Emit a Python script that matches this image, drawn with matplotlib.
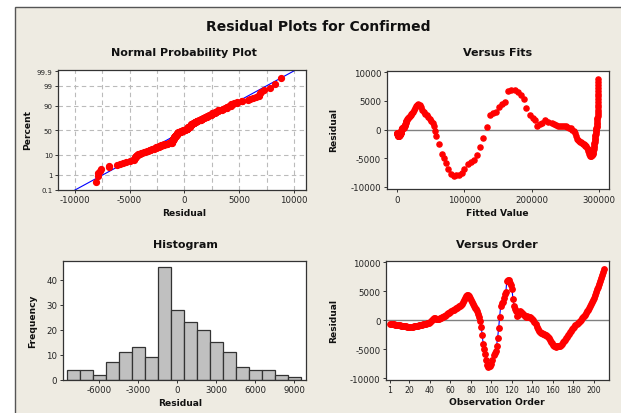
import matplotlib
matplotlib.use("Agg")
import matplotlib.pyplot as plt
import numpy as np
from statistics import NormalDist
from matplotlib.patches import Rectangle

plt.rcParams['font.family'] = ['DejaVu Sans']
plt.rcParams['axes.unicode_minus'] = False

# ---------------- data ----------------
residuals = [
    -600, -640, -660, -700, -720, -760, -780, -820, -850, -880,
    -900, -930, -960, -990, -1010, -1040, -1080, -1110, -1150, -1180,
    -1160, -1130, -1100, -1060, -1030, -1000, -970, -930, -900, -860,
    -820, -780, -740, -700, -650, -610, -560, -500, -420, -330,
    -150, 80, 280, 350, 320, 240, 200, 230, 280, 330,
    400, 480, 560, 650, 760, 880, 1000, 1150, 1300, 1450,
    1580, 1700, 1830, 1950, 2050, 2150, 2270, 2400, 2520, 2650,
    2850, 3100, 3450, 3800, 4100, 4300, 4400, 4250, 3900, 3500,
    3100, 2800, 2500, 2150, 1850, 1500, 1100, 600, -200, -1100,
    -2600, -4200, -5000, -5900, -6900, -7700, -8100, -7900, -7900, -7600,
    -6900, -6100, -5600, -5300, -4400, -3100, -1400, 500, 2500, 2900,
    3100, 3900, 4500, 4800, 6800, 7000, 6900, 6500, 6000, 5300,
    3700, 2500, 2000, 1600, 700, 900, 1200, 1600, 1400, 1200,
    1000, 850, 700, 600, 650, 600, 550, 500, 350, 200,
    0, -300, -600, -1100, -1600, -1900, -2050, -2150, -2250, -2350,
    -2450, -2550, -2650, -2800, -2950, -3150, -3400, -3700, -4000, -4300,
    -4500, -4550, -4600, -4550, -4500, -4450, -4400, -4250, -4050, -3850,
    -3600, -3350, -3100, -2850, -2600, -2350, -2100, -1850, -1600, -1400,
    -1150, -900, -700, -500, -300, -100, 100, 300, 500, 700,
    950, 1200, 1500, 1800, 2100, 2450, 2800, 3150, 3500, 3900,
    4300, 4800, 5300, 5800, 6300, 6800, 7300, 7800, 8300, 8800,
]

fitted = [
    50, 80, 110, 150, 190, 240, 290, 350, 420, 500,
    580, 670, 760, 860, 970, 1090, 1220, 1360, 1510, 1670,
    1840, 2020, 2210, 2410, 2620, 2840, 3070, 3310, 3560, 3820,
    4050, 4250, 4450, 4650, 4850, 5050, 5250, 5450, 5650, 5900,
    6150, 6450, 6800, 7150, 7500, 7850, 8200, 8600, 9000, 9400,
    9800, 10150, 10500, 10850, 11200, 11550, 11900, 12250, 12600, 12950,
    13500, 14100, 14800, 15500, 16200, 17000, 17800, 18700, 19600, 20600,
    21700, 23000, 24500, 26100, 27800, 29500, 31200, 33000, 35000, 37000,
    39200, 41500, 43800, 46000, 48200, 50300, 52500, 54700, 56500, 58300,
    62000, 66000, 70000, 73000, 76000, 80000, 84000, 88000, 92000, 96000,
    100000, 105000, 110000, 114500, 119000, 123500, 128000, 133000, 137500, 142000,
    147000, 151500, 155500, 160000, 165500, 170000, 175000, 180000, 184000, 188000,
    192000, 197000, 201500, 205000, 208500, 212000, 216000, 220500, 225000, 230000,
    233000, 236000, 239000, 242000, 245000, 248000, 251000, 253500, 256000, 258500,
    261000, 263000, 265000, 266500, 268000, 269500, 271000, 272500, 274000, 275300,
    276600, 277900, 279100, 280300, 281400, 282500, 283500, 284400, 285300, 286100,
    286900, 287600, 288300, 288900, 289500, 290000, 290500, 291000, 291400, 291800,
    292000, 292300, 292600, 292900, 293200, 293500, 293800, 294100, 294400, 294700,
    294950, 295200, 295450, 295700, 295950, 296200, 296450, 296700, 296950, 297200,
    297400, 297600, 297800, 298000, 298200, 298400, 298550, 298700, 298850, 299000,
    299100, 299200, 299300, 299400, 299450, 299500, 299550, 299600, 299650, 299700,
]

hist_centers = [-8000, -7000, -6000, -5000, -4000, -3000, -2000, -1000, 0,
                1000, 2000, 3000, 4000, 5000, 6000, 7000, 8000, 9000]
hist_counts = [4, 4, 2, 7, 11, 13, 9, 45, 28, 23, 20, 15, 11, 5, 4, 4, 2, 1]

prob_ticks = [0.1, 1, 10, 50, 90, 99, 99.9]
prob_ticklabels = ['0.1', '1', '10', '50', '90', '99', '99.9']

# ---------------- figure ----------------
W, H = 621, 414
fig = plt.figure(figsize=(W / 100, H / 100), dpi=100, facecolor='white')
bg = Rectangle((14.5 / W, -0.01), 1.0, (H - 8) / H + 0.01, transform=fig.transFigure,
               facecolor='#EEEBE2', edgecolor='#555555', linewidth=1.0, zorder=-10)
fig.patches.append(bg)

def px_axes(l, t, r, b):
    return fig.add_axes([l / W, 1 - b / H, (r - l) / W, (b - t) / H])

def style(ax):
    for s in ax.spines.values():
        s.set_color('#333333')
        s.set_linewidth(0.9)
    ax.tick_params(direction='out', length=2.5, width=0.7, colors='#333333',
                   labelsize=6.2, labelcolor='#222222', pad=1.5)
    ax.tick_params(top=False, right=False)
    ax.set_facecolor('white')

def ftext(x, y, s, size, rot=0):
    fig.text(x / W, 1 - y / H, s, ha='center', va='center', fontsize=size,
             fontweight='bold', rotation=rot, color='#111111')

red = '#FF0000'
res = np.array(residuals, dtype=float)
fit = np.array(fitted, dtype=float)
n = len(res)
order = np.arange(1, n + 1)

# ---- Normal probability plot ----
ax1 = px_axes(58.3, 71.3, 306, 190.7)
style(ax1)
nd = NormalDist()
srt = np.sort(res)
pct = (np.arange(1, n + 1) - 0.3) / (n + 0.4)
zq = np.array([nd.inv_cdf(p) for p in pct])
mu, sd = res.mean(), res.std(ddof=1)
xl = np.array([-12000, 12000])
ax1.plot(xl, (xl - mu) / sd, color='#0000FF', lw=0.8, zorder=2)
ax1.plot(srt, zq, 'o', color=red, ms=4.2, mec=red, zorder=3)
ztick = [nd.inv_cdf(p / 100) for p in prob_ticks]
ax1.set_yticks(ztick)
ax1.set_yticklabels(prob_ticklabels)
ax1.tick_params(axis='y', labelsize=5)
ax1.set_xticks([-10000, -5000, 0, 5000, 10000])
ax1.set_xlim(-11500, 11100)
ax1.set_ylim(-3.1, 3.13)
for gx in np.arange(-10000, 10001, 2500):
    ax1.axvline(gx, color='#BBBBBB', lw=0.8, ls=(0, (4, 3)), zorder=1)
for gz in ztick[1:-1]:
    ax1.axhline(gz, color='#BBBBBB', lw=0.8, ls=(0, (4, 3)), zorder=1)

# ---- Versus Fits ----
ax2 = px_axes(386.7, 71.7, 609, 190)
style(ax2)
ax2.axhline(0, color='#808080', lw=1.0, zorder=1)
ax2.plot(fit, res, 'o', color=red, ms=3.7, mec=red, zorder=3)
ax2.set_xlim(-15900, 315400)
ax2.set_ylim(-10400, 10290)
ax2.set_xticks([0, 100000, 200000, 300000])
ax2.set_yticks([-10000, -5000, 0, 5000, 10000])

# ---- Histogram ----
ax3 = px_axes(62.7, 262, 306, 380.7)
style(ax3)
ax3.bar(hist_centers, hist_counts, width=1000, color='#C0C0C0',
        edgecolor='#333333', linewidth=0.9, zorder=2)
ax3.set_xlim(-8800, 9900)
ax3.set_ylim(0, 47.6)
ax3.set_xticks([-6000, -3000, 0, 3000, 6000, 9000])
ax3.set_yticks([0, 10, 20, 30, 40])

# ---- Versus Order ----
ax4 = px_axes(386, 262.3, 609, 380.7)
style(ax4)
ax4.axhline(0, color='#808080', lw=1.0, zorder=1)
ax4.plot(order, res, '-', color='#0000FF', lw=0.8, zorder=2)
ax4.plot(order, res, 'o', color=red, ms=3.9, mec=red, zorder=3)
ax4.set_xlim(-2.9, 214.7)
ax4.set_ylim(-10290, 10170)
ax4.set_xticks([1] + list(range(20, 201, 20)))
ax4.tick_params(axis='x', labelsize=5.6)
ax4.set_yticks([-10000, -5000, 0, 5000, 10000])

# ---- texts ----
ftext(318.5, 27, 'Residual Plots for Confirmed', 10)
ftext(184, 53, 'Normal Probability Plot', 8)
ftext(497.5, 53, 'Versus Fits', 8)
ftext(185, 245, 'Histogram', 8)
ftext(497, 245, 'Versus Order', 8)
ftext(184, 214, 'Residual', 6.6)
ftext(497.5, 214, 'Fitted Value', 6.6)
ftext(180, 404, 'Residual', 6.6)
ftext(497, 403, 'Observation Order', 6.6)
ftext(28, 130, 'Percent', 6.6, 90)
ftext(334, 130, 'Residual', 6.6, 90)
ftext(33, 321.7, 'Frequency', 6.6, 90)
ftext(334, 320.7, 'Residual', 6.6, 90)

fig.savefig('out.png', dpi=100, facecolor='white')
